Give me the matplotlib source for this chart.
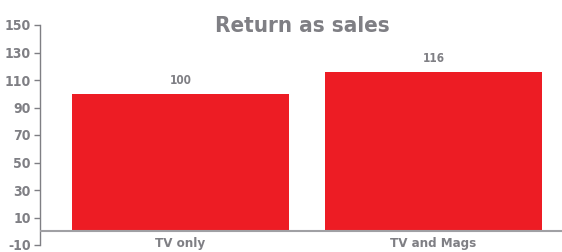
import matplotlib
matplotlib.use('Agg')
import matplotlib.pyplot as plt
import numpy as np

categories = ['TV only', 'TV and Mags']
values = [100, 116]
yticks = [-10, 10, 30, 50, 70, 90, 110, 130, 150]

plt.rcParams['font.family'] = ['DejaVu Sans']
plt.rcParams['font.weight'] = 'bold'
plt.rcParams['font.stretch'] = 'condensed'

grey = '#7f7f84'
red = '#ed1c24'

fig = plt.figure(figsize=(5.62, 2.52), dpi=100)
ax = fig.add_axes([40 / 562, 7 / 252, 522 / 562, 220 / 252])

x = np.arange(len(categories))
bars = ax.bar(x, values, width=0.857, color=red, zorder=2)
for b, v in zip(bars, values):
    ax.text(b.get_x() + b.get_width() / 2, v + 5, str(v), ha='center', va='bottom',
            fontsize=8.5, color=grey, fontweight='bold')

ax.axhline(0, color='#a0a0a4', lw=1.5, zorder=3)
ax.set_xlim(-0.555, 1.508)
ax.set_ylim(-10, 150)
ax.set_yticks(yticks)
ax.set_yticklabels([str(t) for t in yticks], fontsize=10, color=grey, fontweight='bold')
ax.tick_params(axis='y', length=4, width=1, color=grey, pad=2.5)
ax.set_xticks([])
for s in ['top', 'right', 'bottom']:
    ax.spines[s].set_visible(False)
ax.spines['left'].set_color(grey)
ax.spines['left'].set_linewidth(1)

for xi, c in zip(x, categories):
    ax.text(xi, -4, c, ha='center', va='top', fontsize=9.5, color=grey, fontweight='bold')

fig.text(302 / 562, 1 - 26 / 252, 'Return as sales', ha='center', va='center',
         fontsize=16, color=grey, fontweight='bold')

fig.savefig('out.png', dpi=100)
